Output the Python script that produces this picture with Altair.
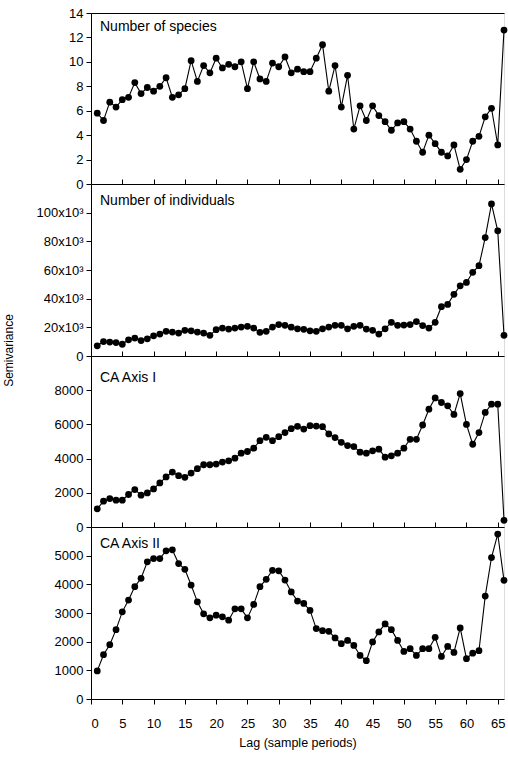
import altair as alt
import pandas as pd

lags = list(range(1, 67))

species = [5.8, 5.2, 6.7, 6.3, 6.9, 7.1, 8.3, 7.4, 7.9, 7.6,
           8.0, 8.7, 7.1, 7.3, 7.8, 10.1, 8.4, 9.7, 9.1, 10.3,
           9.5, 9.8, 9.6, 10.0, 7.8, 10.0, 8.6, 8.4, 9.9, 9.6,
           10.4, 9.1, 9.4, 9.2, 9.2, 10.3, 11.4, 7.6, 9.7, 6.3,
           8.9, 4.5, 6.4, 5.2, 6.4, 5.6, 5.1, 4.4, 5.0, 5.1,
           4.5, 3.5, 2.6, 4.0, 3.3, 2.6, 2.3, 3.2, 1.2, 2.0,
           3.5, 3.9, 5.5, 6.2, 3.2, 12.6]

individuals = [7100, 10100, 9700, 9400, 8200, 11300, 12500, 10800, 12000, 14100,
               15300, 17200, 16700, 16000, 17900, 17600, 16700, 16000, 14400, 18400,
               19500, 18800, 19500, 20200, 20700, 19500, 16500, 17200, 20200, 21900,
               21400, 20100, 19000, 18600, 17600, 17200, 19000, 20200, 21400, 21400,
               19000, 20700, 21400, 18800, 17900, 15300, 19000, 23500, 21400, 21600,
               21900, 24000, 21200, 19500, 23500, 34400, 36000, 43000, 49000, 51300,
               58400, 63000, 82600, 106100, 87300, 14400]

ca_axis_1 = [1065, 1510, 1665, 1570, 1570, 1900, 2190, 1860, 1995, 2225,
             2575, 2925, 3215, 3000, 2905, 3155, 3410, 3640, 3640, 3680,
             3795, 3870, 4025, 4320, 4415, 4610, 5050, 5245, 5050, 5285,
             5520, 5750, 5885, 5730, 5925, 5905, 5865, 5440, 5230, 4955,
             4760, 4705, 4375, 4320, 4455, 4550, 4085, 4160, 4320, 4610,
             5130, 5130, 5965, 6890, 7550, 7280, 7085, 6580, 7800, 6000,
             4840, 5520, 6700, 7180, 7180, 390]

ca_axis_2 = [980, 1545, 1895, 2420, 3040, 3450, 3920, 4210, 4785, 4900,
             4900, 5170, 5205, 4725, 4525, 3975, 3390, 2970, 2830, 2925,
             2865, 2750, 3145, 3145, 2830, 3300, 3920, 4175, 4490, 4470,
             4150, 3735, 3415, 3335, 3090, 2455, 2385, 2360, 2130, 1930,
             2045, 1870, 1520, 1335, 1990, 2340, 2620, 2420, 2045, 1660,
             1755, 1520, 1755, 1755, 2150, 1485, 1835, 1625, 2480, 1405,
             1600, 1685, 3590, 4935, 5755, 4140]

panel_titles = ["Number of species", "Number of individuals", "CA Axis I", "CA Axis II"]
y_max = [14, 120000, 10000, 6000]
y_ticks = [list(range(0, 15, 2)),
           list(range(0, 100001, 20000)),
           list(range(0, 8001, 2000)),
           list(range(0, 5001, 1000))]
x_ticks = list(range(0, 66, 5))

FONT = "Liberation Sans"
W = 413
heights = [171, 172, 171, 172]
title_dy = [14, 17, 22, 17]


def panel(i, values):
    first = i == 0
    last = i == 3
    df = pd.DataFrame({"lag": lags, "v": values})
    xscale = alt.Scale(domain=[0, 66], nice=False, zero=False)
    yscale = alt.Scale(domain=[0, y_max[i]], nice=False)

    common_y = dict(values=y_ticks[i], tickSize=5, labelPadding=3, grid=False,
                    labelOverlap=False, labelFont=FONT, labelFontSize=13,
                    labelColor="black", domainColor="black", tickColor="black")
    if i == 1:
        yaxis = alt.Axis(labelExpr="datum.value == 0 ? '0' : format(datum.value / 1000, 'd') + 'x10³'",
                         title="Semivariance", titleX=-83, titleY=heights[1] - 6,
                         titleAngle=-90, titleAlign="center", titleBaseline="middle",
                         titleFontSize=12, titleFontWeight="normal", titleFont=FONT,
                         titleColor="black", **common_y)
    else:
        yaxis = alt.Axis(format="d", title=None, **common_y)

    if last:
        xaxis = alt.Axis(orient="bottom", values=x_ticks, tickSize=5, labelPadding=13,
                         labelOverlap=False, labelFont=FONT, labelFontSize=13,
                         labelColor="black", domainColor="black", tickColor="black",
                         grid=False, title="Lag (sample periods)", titlePadding=6,
                         titleFontSize=12.5, titleFontWeight="normal", titleFont=FONT,
                         titleColor="black")
    else:
        xaxis = alt.Axis(orient="bottom", values=x_ticks, ticks=False, labels=False,
                         domainColor="black", grid=False, title=None)

    line = alt.Chart(df).mark_line(
        color="black", strokeWidth=1.1,
        point=alt.OverlayMarkDef(filled=True, fill="black", size=46, opacity=1)
    ).encode(
        x=alt.X("lag:Q", scale=xscale, axis=xaxis),
        y=alt.Y("v:Q", scale=yscale, axis=yaxis),
    )

    top_axis = alt.Axis(orient="top", values=x_ticks, ticks=not first, tickSize=5,
                        labels=False, grid=False, title=None,
                        domainColor="black", tickColor="black")
    top = alt.Chart(df).mark_point(opacity=0).encode(
        x=alt.X("lag:Q", scale=xscale, axis=top_axis),
        y=alt.Y("v:Q", scale=yscale, axis=yaxis))

    tdf = pd.DataFrame({"t": [panel_titles[i]]})
    txt = alt.Chart(tdf).mark_text(align="left", baseline="middle", font=FONT,
                                   fontSize=14, color="black").encode(
        x=alt.value(9), y=alt.value(title_dy[i]), text="t:N")

    return alt.layer(line, top, txt).resolve_axis(x="independent").properties(
        width=W, height=heights[i])


panels = [panel(0, species), panel(1, individuals), panel(2, ca_axis_1), panel(3, ca_axis_2)]

chart = alt.vconcat(*panels, spacing=0, bounds="flush").properties(
    padding={"left": 1, "top": 6, "right": 0, "bottom": 4}
).configure_view(stroke=None).configure(background="white")

chart.save("out.html", embed_options={"renderer": "svg", "actions": False})
